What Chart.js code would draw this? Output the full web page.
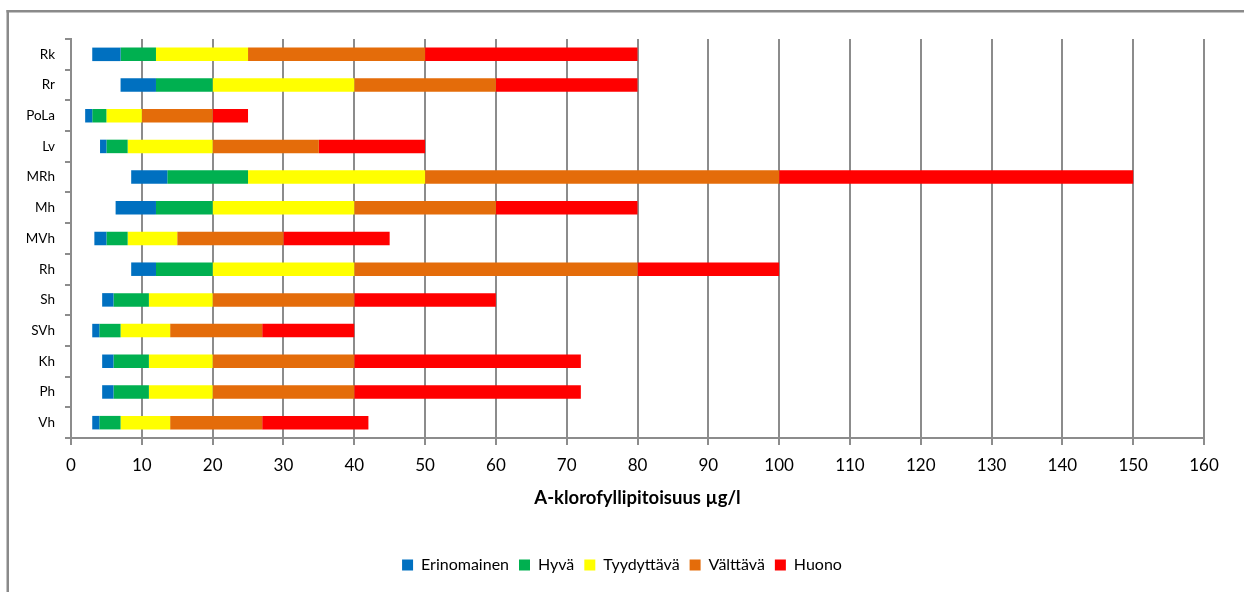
<!DOCTYPE html>
<html>
<head>
<meta charset="utf-8">
<script src="https://cdn.jsdelivr.net/npm/chart.js@4/dist/chart.umd.min.js"></script>
<style>
  html, body { margin: 0; padding: 0; background: #fff; }
  #wrap { width: 1244px; height: 592px; position: relative; }
</style>
</head>
<body>
<div id="wrap"><canvas id="chart" width="1244" height="592"></canvas></div>
<script>
// Vesimuodostumatyypit
const categories = ['Rk', 'Rr', 'PoLa', 'Lv', 'MRh', 'Mh', 'MVh', 'Rh', 'Sh', 'SVh', 'Kh', 'Ph', 'Vh'];

// Luokkarajat (a-klorofylli µg/l) tyypeittäin
const lowerBound           = [3, 7, 2, 4.1, 8.5, 6.3, 3.3, 8.5, 4.4, 3, 4.4, 4.4, 3];
const excellentGood        = [7, 12, 3, 5, 13.6, 12, 5, 12, 6, 4, 6, 6, 4];
const goodSatisfactory     = [12, 20, 5, 8, 25, 20, 8, 20, 11, 7, 11, 11, 7];
const satisfactoryPassable = [25, 40, 10, 20, 50, 40, 15, 40, 20, 14, 20, 20, 14];
const passablePoor         = [50, 60, 20, 35, 100, 60, 30, 80, 40, 27, 40, 40, 27];
const upperBound           = [80, 80, 25, 50, 150, 80, 45, 100, 60, 40, 72, 72, 42];

const classNames = ['Erinomainen', 'Hyvä', 'Tyydyttävä', 'Välttävä', 'Huono'];
const classColors = ['#0070C0', '#00B050', '#FFFF00', '#E46C0A', '#FF0000'];

const bounds = [lowerBound, excellentGood, goodSatisfactory, satisfactoryPassable, passablePoor, upperBound];

const datasets = classNames.map((name, i) => ({
  label: name,
  data: categories.map((_, j) => [bounds[i][j], bounds[i + 1][j]]),
  backgroundColor: classColors[i],
  borderWidth: 0
}));

const FONT = 'Lato, "Open Sans", sans-serif';
const GRID = '#8c8c8c';

// Kehys kuvan vasempaan ja yläreunaan
const framePlugin = {
  id: 'frame',
  beforeDraw(chart) {
    const ctx = chart.ctx;
    ctx.save();
    ctx.fillStyle = '#8a8a8a';
    ctx.fillRect(6.5, 10, 2.5, chart.height - 10);
    ctx.fillRect(6.5, 10, chart.width - 6.5, 2.5);
    ctx.restore();
  }
};

new Chart(document.getElementById('chart'), {
  type: 'bar',
  data: { labels: categories, datasets },
  plugins: [framePlugin],
  options: {
    indexAxis: 'y',
    responsive: false,
    animation: false,
    devicePixelRatio: 1,
    layout: { padding: { left: 20, right: 20, top: 39, bottom: 9 } },
    datasets: {
      bar: { grouped: false, barPercentage: 0.44, categoryPercentage: 1 }
    },
    plugins: {
      legend: {
        position: 'bottom',
        labels: {
          boxWidth: 11,
          boxHeight: 11,
          padding: 10,
          color: '#000',
          font: { family: FONT, size: 16 }
        }
      },
      tooltip: { enabled: false }
    },
    scales: {
      x: {
        min: 0,
        max: 160,
        ticks: { stepSize: 10, color: '#000', padding: 10, font: { family: FONT, size: 17 } },
        grid: { color: GRID, lineWidth: 2, tickLength: 7 },
        border: { color: GRID, width: 2 },
        title: {
          display: true,
          text: 'A-klorofyllipitoisuus µg/l',
          color: '#000',
          font: { family: FONT, size: 18.5, weight: 'bold' },
          padding: { top: 0, bottom: 38 }
        },
        afterFit(scale) {
          scale.height = 109;
          scale.paddingRight = 40;
        }
      },
      y: {
        ticks: { color: '#000', padding: 10, font: { family: FONT, size: 13.5 } },
        grid: { drawOnChartArea: false, color: GRID, lineWidth: 2, tickLength: 6 },
        border: { color: GRID, width: 2 },
        afterFit(scale) {
          scale.width = 51;
        }
      }
    }
  }
});
</script>
</body>
</html>
